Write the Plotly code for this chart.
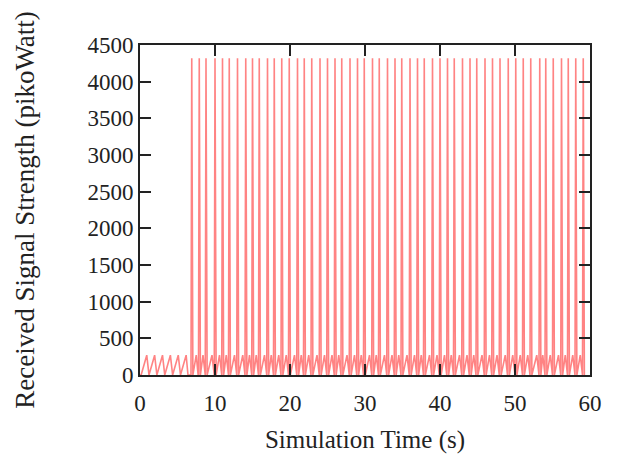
import plotly.graph_objects as go

# Start times (s) of the low-power beacon ramps before the node joins
early_ramp_starts = [0.15, 1.2, 2.25, 3.3, 4.35, 5.4]
early_ramp_peak = 270  # pW

# Times (s) of the high-power bursts once the link is up
burst_times = [6.8, 7.8, 8.7, 9.9, 10.9, 11.8, 12.9, 14.0, 14.9, 15.8, 16.9,
               17.8, 18.8, 19.8, 20.9, 21.8, 22.8, 23.9, 24.9, 25.9, 26.8,
               27.9, 28.9, 29.8, 30.9, 31.8, 32.9, 33.9, 34.8, 35.9, 36.9,
               37.8, 38.9, 39.9, 40.9, 41.8, 42.9, 43.9, 44.8, 45.9, 46.9,
               47.9, 49.0, 50.0, 51.0, 52.0, 53.2, 54.0, 55.0, 56.1, 57.0,
               58.0, 59.0]
burst_peak = 4320  # pW
idle_ramp_peak = 270  # pW

# Build the received-power trace from the event lists
t, p = [0.0], [0.0]
for s in early_ramp_starts:
    t += [s, s + 0.75, s + 1.0]
    p += [0, early_ramp_peak, 0]

for i, s in enumerate(burst_times):
    t += [s, s + 0.1, s + 0.25]
    p += [0, burst_peak, 0]
    if i + 1 < len(burst_times):
        n = burst_times[i + 1]
        t += [n - 0.3, n - 0.05]
        p += [idle_ramp_peak, 0]

fig = go.Figure()
fig.add_trace(go.Scatter(
    x=t, y=p, mode="lines",
    line=dict(color="rgba(255,30,30,0.55)", width=1.6),
    showlegend=False,
))

serif = "Liberation Serif, Times New Roman, serif"
tick_font = dict(family=serif, size=23, color="#222")

axis_common = dict(
    showline=True, linecolor="#222", linewidth=2, mirror="ticks",
    ticks="inside", ticklen=11, tickwidth=2, tickcolor="#222",
    showgrid=False, zeroline=False, tickfont=tick_font,
)

fig.update_layout(
    width=617, height=461,
    margin=dict(l=140, r=27, t=45, b=86),
    paper_bgcolor="white", plot_bgcolor="white",
    font=tick_font,
    xaxis=dict(range=[0, 60], tickvals=[0, 10, 20, 30, 40, 50, 60],
               ticklabelstandoff=6,
               title=dict(text="Simulation Time (s)",
                          font=dict(family=serif, size=25, color="#222"), standoff=16),
               **axis_common),
    yaxis=dict(range=[0, 4500], tickvals=list(range(0, 4501, 500)),
               ticklabelstandoff=0,
               title=dict(text="Received Signal Strength (pikoWatt)",
                          font=dict(family=serif, size=27, color="#222"), standoff=45),
               **axis_common),
)

fig.write_html("out.html")
